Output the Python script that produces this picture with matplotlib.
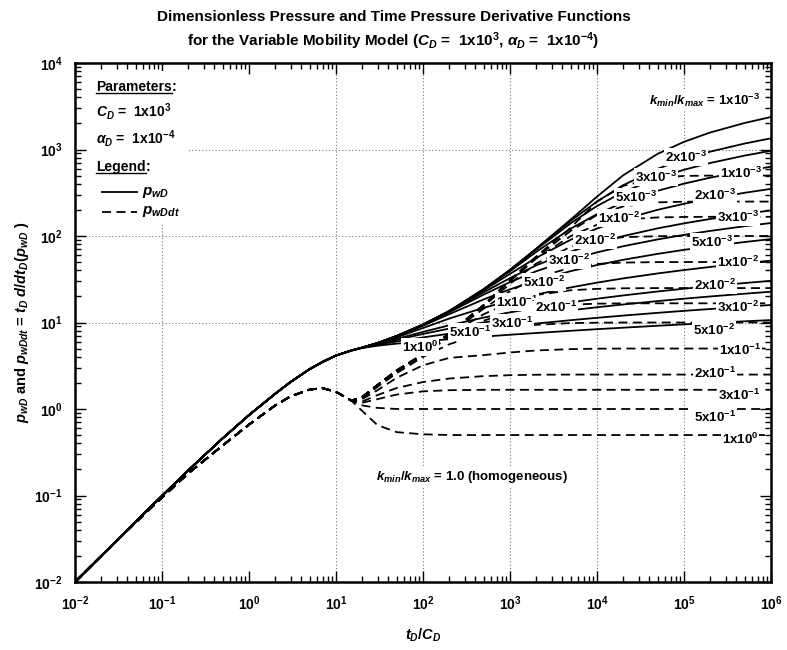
import matplotlib
matplotlib.use("Agg")
import matplotlib.pyplot as plt
from matplotlib.lines import Line2D

plt.rcParams['font.family'] = 'Liberation Sans'
plt.rcParams['font.weight'] = 'bold'
plt.rcParams['axes.unicode_minus'] = False
plt.rcParams['mathtext.fontset'] = 'custom'
plt.rcParams['mathtext.rm'] = 'Liberation Sans:bold'
plt.rcParams['mathtext.it'] = 'Liberation Sans:bold:italic'
plt.rcParams['mathtext.bf'] = 'Liberation Sans:bold'
plt.rcParams['mathtext.sf'] = 'Liberation Sans:bold'

# --- data ---
ratios = ["1e-3", "2e-3", "3e-3", "5e-3", "1e-2", "2e-2", "3e-2", "5e-2",
          "1e-1", "2e-1", "3e-1", "5e-1", "1e0"]
ratio_text = ["1x10$^{-3}$", "2x10$^{-3}$", "3x10$^{-3}$", "5x10$^{-3}$",
              "1x10$^{-2}$", "2x10$^{-2}$", "3x10$^{-2}$", "5x10$^{-2}$",
              "1x10$^{-1}$", "2x10$^{-1}$", "3x10$^{-1}$", "5x10$^{-1}$",
              "1x10$^{0}$"]

# early time, same for every case
x_early = [0.01, 0.02, 0.05, 0.1, 0.2, 0.5, 1, 2, 3, 5, 7, 10]
pwd_early = [0.01, 0.02, 0.05, 0.099, 0.195, 0.46, 0.85, 1.5, 2.05, 2.9, 3.5, 4.15]
der_early = [0.01, 0.02, 0.049, 0.095, 0.18, 0.38, 0.66, 1.1, 1.4, 1.68, 1.74, 1.58]

# late time, one row per ratio (same order as ratios)
x_late = [15, 20, 30, 50, 100, 200, 500, 1e3, 2e3, 5e3, 1e4, 2e4, 5e4, 1e5, 2e5, 5e5, 1e6]
pwd_late = [
    [4.75, 5.13, 5.79, 6.99, 9.45, 13.54, 24.3, 40.59, 71.43, 155.2, 285.2, 503.5, 892.8, 1227, 1572, 2029, 2376],
    [4.75, 5.13, 5.79, 6.99, 9.45, 13.54, 24.3, 40.59, 71.08, 149.9, 250.4, 387.2, 600.2, 771.4, 944.3, 1173, 1347],
    [4.75, 5.13, 5.79, 6.99, 9.45, 13.54, 24.3, 40.24, 69.69, 140.7, 222.1, 322.6, 468.7, 583.1, 698.3, 851.0, 966.5],
    [4.75, 5.13, 5.79, 6.99, 9.45, 13.54, 24.07, 39.14, 65.47, 121.8, 179.0, 243.8, 333.8, 402.9, 472.2, 563.8, 633.1],
    [4.75, 5.13, 5.79, 6.99, 9.45, 13.5, 23.53, 36.52, 55.92, 90.73, 122.1, 155.6, 201.1, 235.7, 270.3, 316.1, 350.8],
    [4.75, 5.13, 5.79, 6.97, 9.40, 13.37, 22.39, 32.61, 45.71, 66.05, 82.72, 99.82, 122.7, 140.0, 157.3, 180.2, 197.6],
    [4.75, 5.13, 5.78, 6.94, 9.33, 13.14, 21.06, 29.31, 39.12, 53.36, 64.66, 76.15, 91.41, 103.0, 114.5, 129.8, 141.3],
    [4.75, 5.12, 5.75, 6.87, 9.16, 12.49, 18.54, 24.19, 30.46, 39.28, 46.14, 53.05, 62.21, 69.14, 76.07, 85.23, 92.16],
    [4.75, 5.12, 5.72, 6.73, 8.64, 11.10, 14.81, 17.82, 21.03, 25.46, 28.89, 32.35, 36.93, 40.40, 43.87, 48.45, 51.92],
    [4.75, 5.11, 5.65, 6.47, 7.79, 9.28, 11.41, 13.09, 14.81, 17.10, 18.83, 20.56, 22.85, 24.58, 26.31, 28.60, 30.33],
    [4.75, 5.10, 5.60, 6.31, 7.37, 8.50, 10.02, 11.17, 12.33, 13.85, 15.01, 16.16, 17.69, 18.84, 20.0, 21.53, 22.68],
    [4.75, 5.09, 5.52, 6.04, 6.73, 7.42, 8.34, 9.03, 9.72, 10.64, 11.33, 12.02, 12.94, 13.63, 14.32, 15.24, 15.93],
    [4.75, 5.07, 5.39, 5.70, 6.06, 6.41, 6.87, 7.22, 7.56, 8.02, 8.37, 8.71, 9.17, 9.52, 9.86, 10.32, 10.67],
]
der_late = [
    [1.25, 1.38, 1.9, 2.8, 4.3, 7.5, 16, 31, 58, 125, 250, 380, 470, 495, 499, 500, 500],
    [1.25, 1.38, 1.9, 2.8, 4.3, 7.5, 16, 31, 57, 115, 175, 220, 245, 249, 250, 250, 250],
    [1.25, 1.38, 1.9, 2.8, 4.3, 7.5, 16, 30, 55, 100, 135, 155, 164, 166, 166.7, 166.7, 166.7],
    [1.25, 1.38, 1.9, 2.8, 4.3, 7.5, 15.5, 28, 48, 75, 90, 97, 99.5, 100, 100, 100, 100],
    [1.25, 1.37, 1.9, 2.8, 4.3, 7.4, 14.5, 23, 33, 43, 47.5, 49.3, 49.9, 50, 50, 50, 50],
    [1.25, 1.36, 1.88, 2.75, 4.25, 7.2, 12.5, 17.0, 20.8, 23.6, 24.5, 24.85, 25, 25, 25, 25, 25],
    [1.25, 1.35, 1.85, 2.7, 4.2, 6.8, 10.5, 13.3, 15.0, 16.1, 16.5, 16.65, 16.67, 16.67, 16.67, 16.67, 16.67],
    [1.25, 1.33, 1.8, 2.6, 4.0, 5.6, 7.6, 8.7, 9.4, 9.85, 9.95, 10, 10, 10, 10, 10, 10],
    [1.25, 1.3, 1.65, 2.3, 3.2, 3.9, 4.2, 4.5, 4.75, 4.92, 4.98, 5, 5, 5, 5, 5, 5],
    [1.25, 1.22, 1.45, 1.75, 2.05, 2.25, 2.4, 2.46, 2.49, 2.5, 2.5, 2.5, 2.5, 2.5, 2.5, 2.5, 2.5],
    [1.25, 1.18, 1.3, 1.47, 1.6, 1.65, 1.667, 1.667, 1.667, 1.667, 1.667, 1.667, 1.667, 1.667, 1.667, 1.667, 1.667],
    [1.25, 1.1, 1.03, 1.0, 1.0, 1.0, 1.0, 1.0, 1.0, 1.0, 1.0, 1.0, 1.0, 1.0, 1.0, 1.0, 1.0],
    [1.25, 0.95, 0.65, 0.54, 0.51, 0.5, 0.5, 0.5, 0.5, 0.5, 0.5, 0.5, 0.5, 0.5, 0.5, 0.5, 0.5],
]

# label spots (x, y) for the pwD curves and for the derivative curves
pwd_label_x = [None, 1.05e5, 4.77e4, 2.8e4, 1.79e4, 9.5e3, 4.77e3, 2.46e3, 1.2e3, 3.38e3, 1.05e3, 347, 92.5]
pwd_label_y = [None, 818, 481, 282, 161, 90, 52.8, 29.4, 17.3, 15.1, 9.86, 7.76, 5.21]
der_label_x = [4.52e5, 2.27e5, 4.18e5, 2.1e5, 4.18e5, 2.27e5, 4.18e5, 2.2e5, 4.4e5, 2.27e5, 4.3e5, 2.27e5, 4.4e5]
der_label_y = [535, 298, 166, 85.3, 50, 27.2, 15.1, 8.18, 4.81, 2.61, 1.45, 0.81, 0.44]

grid_x = [0.1, 10, 100, 1e3, 1e4, 1e5]
grid_y = [10, 100, 1e3]

W, H = 787, 650
fig = plt.figure(figsize=(W / 100, H / 100), dpi=100)
ax = fig.add_axes([75 / W, 68 / H, 696 / W, 519 / H])
ax.set_xscale('log')
ax.set_yscale('log')
ax.set_xlim(1e-2, 1e6)
ax.set_ylim(1e-2, 1e4)

for gx in grid_x:
    ax.axvline(gx, color='#777777', lw=0.8, ls=(0, (1, 2)), zorder=1)
for gy in grid_y:
    ax.axhline(gy, color='#777777', lw=0.8, ls=(0, (1, 2)), zorder=1)

x_all = x_early + x_late
for i in range(len(ratios)):
    ax.plot(x_all, pwd_early + pwd_late[i], color='black', lw=1.3, zorder=2)
    ax.plot(x_all, der_early + der_late[i], color='black', lw=1.3,
            ls=(0, (5, 3)), zorder=2)

box = dict(boxstyle='square,pad=0.08', fc='white', ec='none')
for i in range(len(ratios)):
    if pwd_label_x[i] is not None:
        ax.text(pwd_label_x[i], pwd_label_y[i], ratio_text[i], fontsize=9.5,
                ha='center', va='center', bbox=box, zorder=5)
    ax.text(der_label_x[i], der_label_y[i], ratio_text[i], fontsize=9.5,
            ha='center', va='center', bbox=box, zorder=5)

ax.text(1.74e5, 3730, "$k_{min}/k_{max}$ = 1x10$^{-3}$", fontsize=9.5,
        ha='center', va='center', bbox=box, zorder=5)
ax.text(366, 0.164, "$k_{min}/k_{max}$ = 1.0 (homogeneous)", fontsize=9.5,
        ha='center', va='center', bbox=box, zorder=5)

# parameters / legend block
ax.add_patch(plt.Rectangle((0.018, 0.69), 0.145, 0.295, transform=ax.transAxes,
                           fc='white', ec='none', zorder=3))
t_par = ax.text(0.030, 0.954, "Parameters", transform=ax.transAxes,
                fontsize=10, va='center', zorder=4)
ax.text(0.030, 0.906, "$C_D$ =  1x10$^3$", transform=ax.transAxes,
        fontsize=10, va='center', zorder=4)
ax.text(0.030, 0.855, r"$\alpha_D$ =  1x10$^{-4}$", transform=ax.transAxes,
        fontsize=10, va='center', zorder=4)
t_leg = ax.text(0.030, 0.800, "Legend", transform=ax.transAxes,
                fontsize=10, va='center', zorder=4)
ax.add_line(Line2D([0.039, 0.089], [0.751, 0.751], transform=ax.transAxes,
                   color='black', lw=1.3, zorder=4))
ax.add_line(Line2D([0.039, 0.089], [0.713, 0.713], transform=ax.transAxes,
                   color='black', lw=1.3, ls=(0, (5, 3)), zorder=4))
ax.text(0.096, 0.751, "$p_{wD}$", transform=ax.transAxes, fontsize=11,
        va='center', zorder=4)
ax.text(0.096, 0.713, "$p_{wDdt}$", transform=ax.transAxes, fontsize=11,
        va='center', zorder=4)

ax.tick_params(which='both', direction='in', top=True, right=True,
               labelsize=10, width=1)
ax.tick_params(which='major', length=8, pad=9)
ax.tick_params(which='minor', length=4)
for s in ax.spines.values():
    s.set_linewidth(1.8)

fig.text(0.5, 1 - 17 / H, "Dimensionless Pressure and Time Pressure Derivative Functions",
         ha='center', va='center', fontsize=11)
fig.text(0.5, 1 - 41 / H,
         r"for the Variable Mobility Model ($C_D$ =  1x10$^3$, $\alpha_D$ =  1x10$^{-4}$)",
         ha='center', va='center', fontsize=11)
fig.text(423 / W, 1 - 635 / H, "$t_D/C_D$", ha='center', va='center', fontsize=10.5)
fig.text(22 / W, 1 - 322 / H,
         "$p_{wD}$ and $p_{wDdt}$ = $t_D$ $d/dt_D(p_{wD}$ )",
         ha='center', va='center', rotation=90, fontsize=10.5)

# underline the two headings and add the colons
fig.canvas.draw()
for t in (t_par, t_leg):
    bb = t.get_window_extent()
    fig.add_artist(Line2D([bb.x0 / W, bb.x1 / W], [(bb.y0 + 1) / H, (bb.y0 + 1) / H],
                          transform=fig.transFigure, color='black', lw=1))
    fig.text(bb.x1 / W, (bb.y0 + bb.y1) / 2 / H, ":", va='center', fontsize=10)

fig.savefig("out.png", dpi=100)
